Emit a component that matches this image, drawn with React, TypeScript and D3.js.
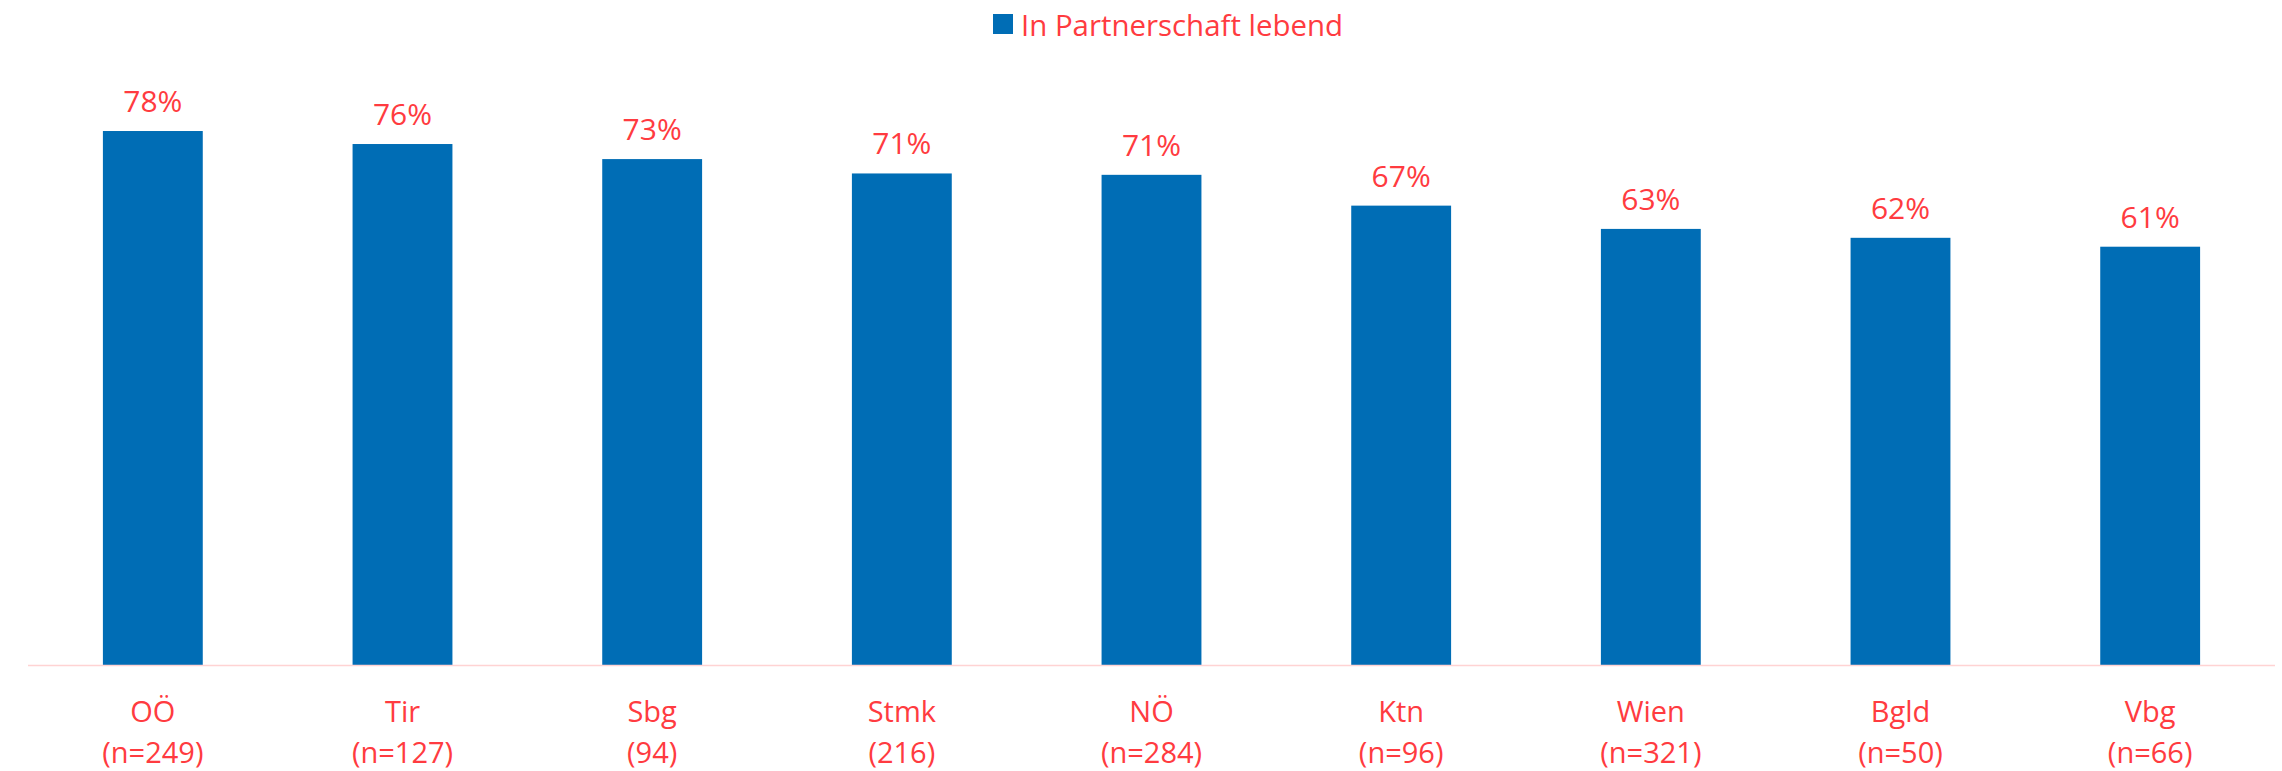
import React from "react";
import * as d3 from "d3";

const categories = ["OÖ", "Tir", "Sbg", "Stmk", "NÖ", "Ktn", "Wien", "Bgld", "Vbg"];
const sampleSizes = ["(n=249)", "(n=127)", "(94)", "(216)", "(n=284)", "(n=96)", "(n=321)", "(n=50)", "(n=66)"];
const values = [78.0, 76.1, 73.9, 71.8, 71.6, 67.1, 63.7, 62.4, 61.1];
const valueLabels = ["78%", "76%", "73%", "71%", "71%", "67%", "63%", "62%", "61%"];
const seriesName = "In Partnerschaft lebend";

const W = 2282;
const H = 771;
const BAR = "#006DB5";
const RED = "#FF3B40";
const FONT = "'Open Sans', 'Noto Sans', sans-serif";

export default function App() {
  const x = d3.scaleBand<string>().domain(categories).range([28, 2275]).paddingInner(0.6).paddingOuter(0.3);
  const y = d3.scaleLinear().domain([0, 100]).range([665, 665 - 684.6]);
  const bw = x.bandwidth();

  return (
    <svg width={W} height={H} style={{ position: "absolute", left: 0, top: 0, background: "#fff" }} fontFamily={FONT}>
      <rect x={993} y={14} width={20} height={20} fill={BAR} />
      <text x={1021} y={36} fontSize={29} fill={RED} textLength={322} lengthAdjust="spacingAndGlyphs">
        {seriesName}
      </text>
      {categories.map((c, i) => {
        const cx = (x(c) as number) + bw / 2;
        const top = y(values[i]);
        return (
          <g key={c}>
            <rect x={x(c)} y={top} width={bw} height={y(0) - top} fill={BAR} />
            <text x={cx} y={top - 19} textAnchor="middle" fontSize={30} fill={RED}>
              {valueLabels[i]}
            </text>
            <text x={cx} y={722} textAnchor="middle" fontSize={29} fill={RED}>
              {c}
            </text>
            <text x={cx} y={763} textAnchor="middle" fontSize={29} fill={RED}>
              {sampleSizes[i]}
            </text>
          </g>
        );
      })}
      <line x1={28} x2={2275} y1={665.5} y2={665.5} stroke="#FFD3D3" strokeWidth={1.5} />
    </svg>
  );
}
